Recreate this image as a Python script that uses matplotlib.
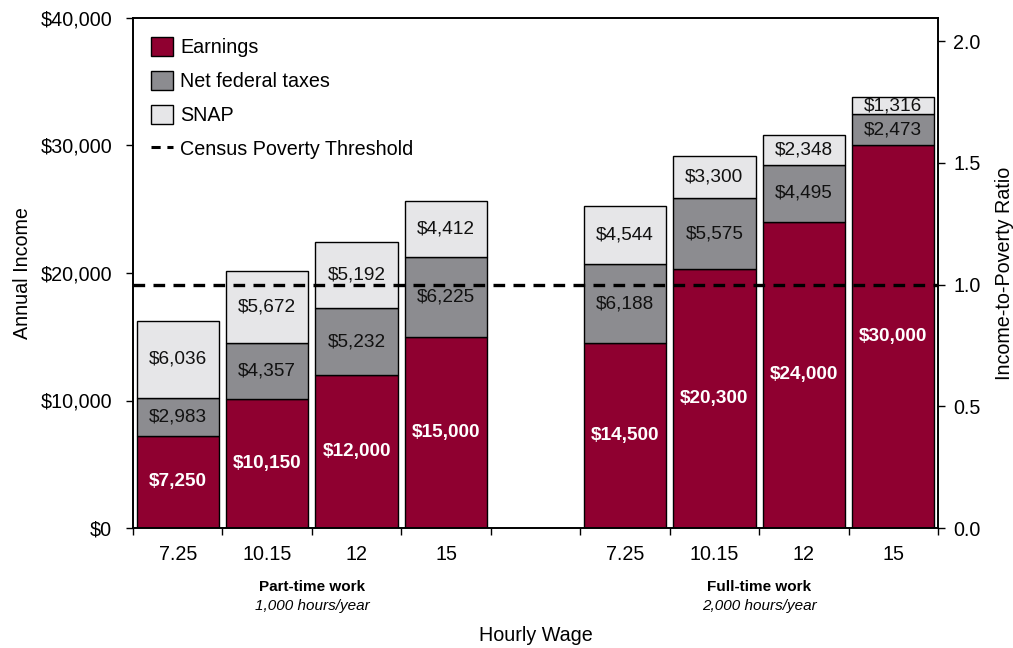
import matplotlib
matplotlib.use("Agg")
import matplotlib.pyplot as plt
from matplotlib.patches import Patch
from matplotlib.lines import Line2D
import numpy as np

plt.rcParams['font.family'] = ['Liberation Sans', 'DejaVu Sans']

wages = ["7.25", "10.15", "12", "15", "7.25", "10.15", "12", "15"]
earnings = [7250, 10150, 12000, 15000, 14500, 20300, 24000, 30000]
net_taxes = [2983, 4357, 5232, 6225, 6188, 5575, 4495, 2473]
snap = [6036, 5672, 5192, 4412, 4544, 3300, 2348, 1316]
poverty_threshold = 19096
positions = [0, 1, 2, 3, 5, 6, 7, 8]
groups = [("Part-time work", "1,000 hours/year", 1.5),
          ("Full-time work", "2,000 hours/year", 6.5)]

c_earn = "#8F0030"
c_tax = "#8C8C90"
c_snap = "#E6E6E8"

fig = plt.figure(figsize=(10.13, 6.48), dpi=100)
ax = fig.add_axes([133/1013, 1-528/648, (938-133)/1013, (528-18)/648])

x = np.array(positions, dtype=float)
e = np.array(earnings); t = np.array(net_taxes); s = np.array(snap)
w = 0.92
ax.bar(x, e, w, color=c_earn, edgecolor="black", linewidth=1.0, zorder=2)
ax.bar(x, t, w, bottom=e, color=c_tax, edgecolor="black", linewidth=1.0, zorder=2)
ax.bar(x, s, w, bottom=e + t, color=c_snap, edgecolor="black", linewidth=1.0, zorder=2)

for xi, ei, ti, si in zip(x, e, t, s):
    ax.text(xi, ei / 2, f"${ei:,}", ha="center", va="center", color="white",
            fontsize=13.7, fontweight="bold", zorder=3)
    ax.text(xi, ei + ti / 2, f"${ti:,}", ha="center", va="center", color="#111111",
            fontsize=13.7, zorder=3)
    ax.text(xi, ei + ti + si / 2, f"${si:,}", ha="center", va="center", color="#111111",
            fontsize=13.7, zorder=3)

ax.axhline(poverty_threshold, color="black", linestyle=(0, (3.5, 2.5)), linewidth=2.4, zorder=4)

ax.set_xlim(-0.5, 8.5)
ax.set_ylim(0, 40000)
ax.set_yticks(np.arange(0, 40001, 10000))
ax.set_yticklabels([f"${v:,}" for v in range(0, 40001, 10000)], fontsize=14.2)
ax.set_xticks(np.arange(-0.5, 8.6, 1.0))
ax.set_xticklabels([])
ax.set_xticks(x, minor=True)
ax.set_xticklabels(wages, minor=True, fontsize=14.2)
ax.tick_params(axis="x", which="minor", length=0, pad=12)
ax.tick_params(axis="x", which="major", length=5, direction="out", width=1)
ax.tick_params(axis="y", length=5, direction="out", width=1, pad=10)
for sp in ax.spines.values():
    sp.set_linewidth(1.2)
ax.set_ylabel("Annual Income", fontsize=14.2, labelpad=6)

ax2 = ax.twinx()
ax2.set_ylim(0, 40000 / poverty_threshold)
ax2.set_yticks([0.0, 0.5, 1.0, 1.5, 2.0])
ax2.set_yticklabels(["0.0", "0.5", "1.0", "1.5", "2.0"], fontsize=14.2)
ax2.tick_params(axis="y", length=5, direction="out", width=1, pad=6)
ax2.set_ylabel("Income-to-Poverty Ratio", fontsize=14.2, labelpad=10)
for sp in ax2.spines.values():
    sp.set_linewidth(1.2)

for title, sub, cx in groups:
    ax.text(cx, -0.115, title, transform=ax.get_xaxis_transform(), ha="center",
            va="center", fontsize=11, fontweight="bold")
    ax.text(cx, -0.152, sub, transform=ax.get_xaxis_transform(), ha="center",
            va="center", fontsize=11, style="italic")
ax.text(0.5, -0.21, "Hourly Wage", transform=ax.transAxes, ha="center", va="center",
        fontsize=14.2)

handles = [Patch(facecolor=c_earn, edgecolor="black", linewidth=1.0),
           Patch(facecolor=c_tax, edgecolor="black", linewidth=1.0),
           Patch(facecolor=c_snap, edgecolor="black", linewidth=1.0),
           Line2D([0], [0], color="black", linestyle=(0, (3, 2.2)), linewidth=2.2)]
labels = ["Earnings", "Net federal taxes", "SNAP", "Census Poverty Threshold"]
ax.legend(handles, labels, loc="upper left", bbox_to_anchor=(0.005, 0.99),
          frameon=False, fontsize=14.2, labelspacing=0.7, handlelength=1.1,
          handleheight=1.1, handletextpad=0.4, borderaxespad=0.3)

fig.savefig("out.png", dpi=100)
